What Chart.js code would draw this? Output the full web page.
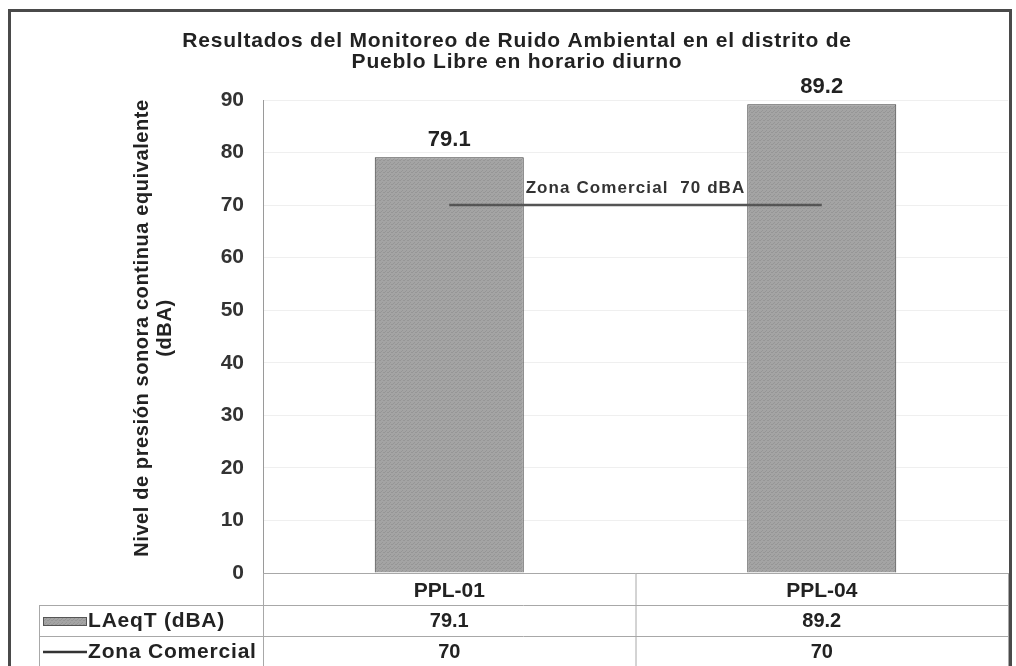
<!DOCTYPE html>
<html>
<head>
<meta charset="utf-8">
<script src="https://cdn.jsdelivr.net/npm/chart.js@4.4.1/dist/chart.umd.min.js"></script>
<style>
  body { margin: 0; background: #fff; }
  #wrap { position: relative; width: 1016px; height: 666px; }
</style>
</head>
<body>
<div id="wrap"><canvas id="chart" width="1016" height="666"></canvas></div>
<script>
// data
const categories = ['PPL-01', 'PPL-04'];
const laeqValues = [79.1, 89.2];
const limitValues = [70, 70];
const seriesNames = ['LAeqT (dBA)', 'Zona Comercial'];
const limitLabel = 'Zona Comercial  70 dBA';
const titleLines = ['Resultados del Monitoreo de Ruido Ambiental en el distrito de', 'Pueblo Libre en horario diurno'];
const yTitleLines = ['Nivel de presión sonora continua equivalente', '(dBA)'];

const FONT = '"Liberation Sans", Arial, sans-serif';

// tiny deterministic texture for the bars
function barPattern() {
    const c = document.createElement('canvas');
    c.width = 4; c.height = 4;
    const g = c.getContext('2d');
    g.fillStyle = '#a4a4a4';
    g.fillRect(0, 0, 4, 4);
    g.fillStyle = '#969696';
    g.fillRect(0, 0, 1, 1); g.fillRect(2, 2, 1, 1);
    g.fillRect(3, 0, 1, 1); g.fillRect(1, 3, 1, 1);
    return g.createPattern(c, 'repeat');
}

const extras = {
    id: 'extras',
    beforeDraw(chart) {
        const ctx = chart.ctx;
        ctx.save();
        ctx.fillStyle = '#fff';
        ctx.fillRect(0, 0, chart.width, chart.height);
        ctx.restore();
    },
    afterDraw(chart) {
        const ctx = chart.ctx;
        const area = chart.chartArea;
        const xs = chart.scales.x;
        ctx.save();

        // outer frame
        ctx.strokeStyle = '#4a4a4a';
        ctx.lineWidth = 3;
        ctx.strokeRect(9.5, 10.5, 1001, 670);

        // title
        ctx.fillStyle = '#222';
        ctx.textAlign = 'center';
        ctx.textBaseline = 'middle';
        ctx.font = 'bold 21px ' + FONT;
        ctx.letterSpacing = '0.8px';
        ctx.fillText(titleLines[0], 517, 41);
        ctx.fillText(titleLines[1], 517, 62);

        // y axis title
        ctx.save();
        ctx.translate(0, 328);
        ctx.rotate(-Math.PI / 2);
        ctx.font = 'bold 20px ' + FONT;
        ctx.letterSpacing = '0.6px';
        ctx.fillText(yTitleLines[0], 0, 142);
        ctx.fillText(yTitleLines[1], 0, 165);
        ctx.restore();
        ctx.letterSpacing = '0px';

        // value labels above bars
        const barMeta = chart.getDatasetMeta(1);
        ctx.font = 'bold 22px ' + FONT;
        ctx.fillStyle = '#222';
        ctx.textBaseline = 'alphabetic';
        barMeta.data.forEach((bar, i) => {
            ctx.fillText(laeqValues[i].toFixed(1), bar.x, bar.y - 11);
        });

        // label over the limit line
        const lineMeta = chart.getDatasetMeta(0);
        const p0 = lineMeta.data[0], p1 = lineMeta.data[1];
        ctx.font = 'bold 17px ' + FONT;
        ctx.letterSpacing = '1.1px';
        ctx.fillStyle = '#333';
        ctx.fillText(limitLabel, (p0.x + p1.x) / 2, p0.y - 12);
        ctx.letterSpacing = '0px';

        // data table under the plot
        const top = area.bottom, r1 = 605, r2 = 636, bot = 666, tl = 39;
        const mid = (xs.getPixelForValue(0) + xs.getPixelForValue(1)) / 2;
        ctx.strokeStyle = '#a8a8a8';
        ctx.lineWidth = 1;
        ctx.beginPath();
        ctx.moveTo(area.left, top + 0.5); ctx.lineTo(area.right, top + 0.5);
        ctx.moveTo(tl, r1 + 0.5); ctx.lineTo(area.right, r1 + 0.5);
        ctx.moveTo(tl, r2 + 0.5); ctx.lineTo(area.right, r2 + 0.5);
        ctx.moveTo(tl + 0.5, r1); ctx.lineTo(tl + 0.5, bot);
        ctx.moveTo(area.left + 0.5, top); ctx.lineTo(area.left + 0.5, bot);
        ctx.moveTo(mid + 0.5, top); ctx.lineTo(mid + 0.5, bot);
        ctx.moveTo(area.right + 0.5, top); ctx.lineTo(area.right + 0.5, bot);
        ctx.stroke();

        ctx.font = 'bold 20px ' + FONT;
        ctx.fillStyle = '#222';
        ctx.textBaseline = 'middle';
        ctx.textAlign = 'center';
        categories.forEach((c, i) => {
            const x = xs.getPixelForValue(i);
            ctx.fillText(laeqValues[i].toFixed(1), x, (r1 + r2) / 2 + 1);
            ctx.fillText(String(limitValues[i]), x, (r2 + bot) / 2 + 1);
        });

        // row keys
        ctx.fillStyle = '#555';
        ctx.fillRect(43, 617, 44, 9);
        ctx.fillStyle = barPattern();
        ctx.fillRect(44, 618, 42, 7);
        ctx.strokeStyle = '#333';
        ctx.lineWidth = 2.5;
        ctx.beginPath();
        ctx.moveTo(43, 652); ctx.lineTo(87, 652);
        ctx.stroke();
        ctx.fillStyle = '#222';
        ctx.textAlign = 'left';
        ctx.font = 'bold 21px ' + FONT;
        ctx.letterSpacing = '0.8px';
        ctx.fillText(seriesNames[0], 88, 621);
        ctx.fillText(seriesNames[1], 88, 652);
        ctx.letterSpacing = '0px';

        ctx.restore();
    }
};

const ctx = document.getElementById('chart').getContext('2d');
new Chart(ctx, {
    data: {
        labels: categories,
        datasets: [
            {
                type: 'line',
                label: seriesNames[1],
                data: limitValues,
                borderColor: '#555',
                borderWidth: 2.5,
                pointRadius: 0,
                order: 0
            },
            {
                type: 'bar',
                label: seriesNames[0],
                data: laeqValues,
                backgroundColor: barPattern(),
                borderColor: '#3a3a3a',
                borderWidth: 1,
                barPercentage: 0.4,
                categoryPercentage: 1,
                order: 1
            }
        ]
    },
    options: {
        responsive: false,
        animation: false,
        layout: { padding: { left: 20, right: 8, top: 100, bottom: 0 } },
        plugins: {
            legend: { display: false },
            tooltip: { enabled: false }
        },
        scales: {
            x: {
                grid: { display: false, drawTicks: false },
                border: { display: false },
                ticks: {
                    color: '#222',
                    font: { family: FONT, size: 21, weight: 'bold' },
                    padding: 6
                },
                afterFit(scale) { scale.height = 93; }
            },
            y: {
                min: 0,
                max: 90,
                ticks: {
                    stepSize: 10,
                    color: '#333',
                    font: { family: FONT, size: 21, weight: 'bold' },
                    padding: 19
                },
                grid: { color: '#efefef', drawTicks: false },
                border: { color: '#9a9a9a' },
                afterFit(scale) { scale.width = 243; }
            }
        }
    },
    plugins: [extras]
});
</script>
</body>
</html>
